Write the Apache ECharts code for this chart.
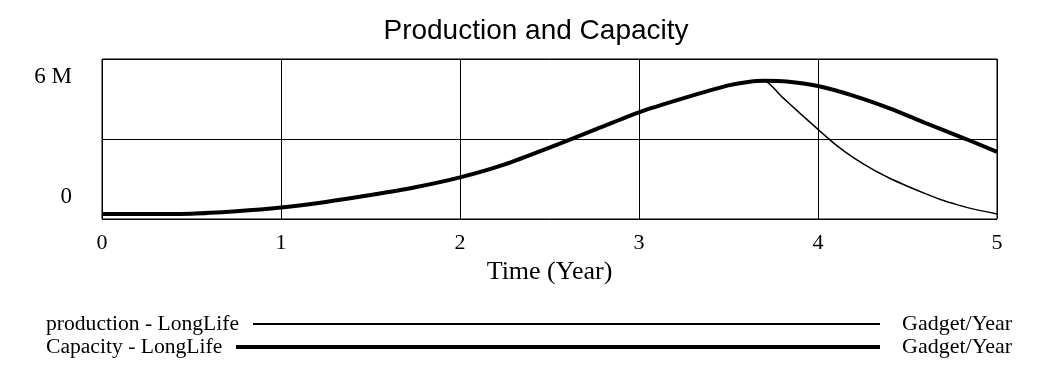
<!DOCTYPE html>
<html>
<head>
<meta charset="utf-8">
<script src="https://cdn.jsdelivr.net/npm/echarts@6/dist/echarts.min.js"></script>
<style>html,body{margin:0;padding:0;background:#fff;}#c{width:1056px;height:384px;}</style>
</head>
<body>
<div id="c"></div>
<script>
// ---- data ----
const titleText = 'Production and Capacity';
const xName = 'Time (Year)';
const xTicks = [0, 1, 2, 3, 4, 5];
const yTickValues = [0, 6e6];
const yTickLabels = ['0', '6 M'];
const capTime = [0,0.25,0.5,0.75,1,1.25,1.5,1.75,2,2.25,2.5,2.75,3,3.25,3.5,3.6,3.7,3.825,4,4.2,4.4,4.6,4.83,5];
const capValues = [0.19,0.19,0.2,0.29,0.43,0.64,0.9,1.19,1.56,2.05,2.68,3.34,4.0,4.53,5.01,5.13,5.18,5.16,4.99,4.62,4.15,3.6,2.99,2.52];
const prodTime = [0,0.25,0.5,0.75,1,1.25,1.5,1.75,2,2.25,2.5,2.75,3,3.25,3.5,3.6,3.7,3.8,3.9,4.0,4.1,4.2,4.31,4.4,4.5,4.6,4.68,4.78,4.87,5];
const prodValues = [0.19,0.19,0.2,0.29,0.43,0.64,0.9,1.19,1.56,2.05,2.68,3.34,4.0,4.53,5.01,5.13,5.18,4.57,3.96,3.36,2.78,2.29,1.84,1.53,1.23,0.95,0.74,0.53,0.37,0.19];
const seriesNames = ['production - LongLife', 'Capacity - LongLife'];
const unitLabel = 'Gadget/Year';

const toPairs = (t, v) => t.map((x, i) => [x, v[i] * 1e6]);

const serif = '"Liberation Serif", "Times New Roman", serif';
const sans = '"Liberation Sans", Arial, sans-serif';

const chart = echarts.init(document.getElementById('c'));
chart.setOption({
  backgroundColor: '#fff',
  animation: false,
  grid: { left: 102, top: 59, width: 895, height: 160, show: true, borderColor: '#000', borderWidth: 1 },
  xAxis: {
    type: 'value', min: xTicks[0], max: xTicks[xTicks.length - 1], interval: 1,
    axisLine: { show: false }, axisTick: { show: false },
    splitLine: { show: true, lineStyle: { color: '#000', width: 1 } },
    axisLabel: { color: '#000', fontFamily: serif, fontSize: 22, margin: 13 },
    name: xName, nameLocation: 'middle', nameGap: 40,
    nameTextStyle: { color: '#000', fontFamily: serif, fontSize: 26 }
  },
  yAxis: {
    type: 'value', min: 0, max: 6e6, interval: 3e6,
    axisLine: { show: false }, axisTick: { show: false },
    splitLine: { show: true, lineStyle: { color: '#000', width: 1 } },
    axisLabel: { show: false }
  },
  series: [
    { name: seriesNames[1], type: 'line', data: toPairs(capTime, capValues), showSymbol: false, smooth: 0.25,
      lineStyle: { color: '#000', width: 4 }, z: 3 },
    { name: seriesNames[0], type: 'line', data: toPairs(prodTime, prodValues), showSymbol: false, smooth: 0.2,
      lineStyle: { color: '#000', width: 1.5 }, z: 4 }
  ]
});

const gfx = [];
gfx.push({ type: 'text', x: 536, y: 31, style: { text: titleText, fill: '#000', font: '28px ' + sans, align: 'center', verticalAlign: 'middle' } });
const yOffsets = [-22, 18];
yTickValues.forEach((v, i) => {
  const p = chart.convertToPixel({ gridIndex: 0 }, [0, v]);
  gfx.push({ type: 'text', x: 72, y: p[1] + yOffsets[i], style: { text: yTickLabels[i], fill: '#000', font: '23px ' + serif, align: 'right', verticalAlign: 'middle' } });
});
const legendRows = [
  { name: seriesNames[0], y: 324, x1: 253, w: 2 },
  { name: seriesNames[1], y: 347, x1: 236, w: 4 }
];
legendRows.forEach(r => {
  gfx.push({ type: 'text', x: 46, y: r.y, style: { text: r.name, fill: '#000', font: '21.6px ' + serif, align: 'left', verticalAlign: 'middle' } });
  gfx.push({ type: 'line', shape: { x1: r.x1, y1: r.y, x2: 880, y2: r.y }, style: { stroke: '#000', lineWidth: r.w } });
  gfx.push({ type: 'text', x: 902, y: r.y, style: { text: unitLabel, fill: '#000', font: '22px ' + serif, align: 'left', verticalAlign: 'middle' } });
});
chart.setOption({ graphic: gfx });
</script>
</body>
</html>
